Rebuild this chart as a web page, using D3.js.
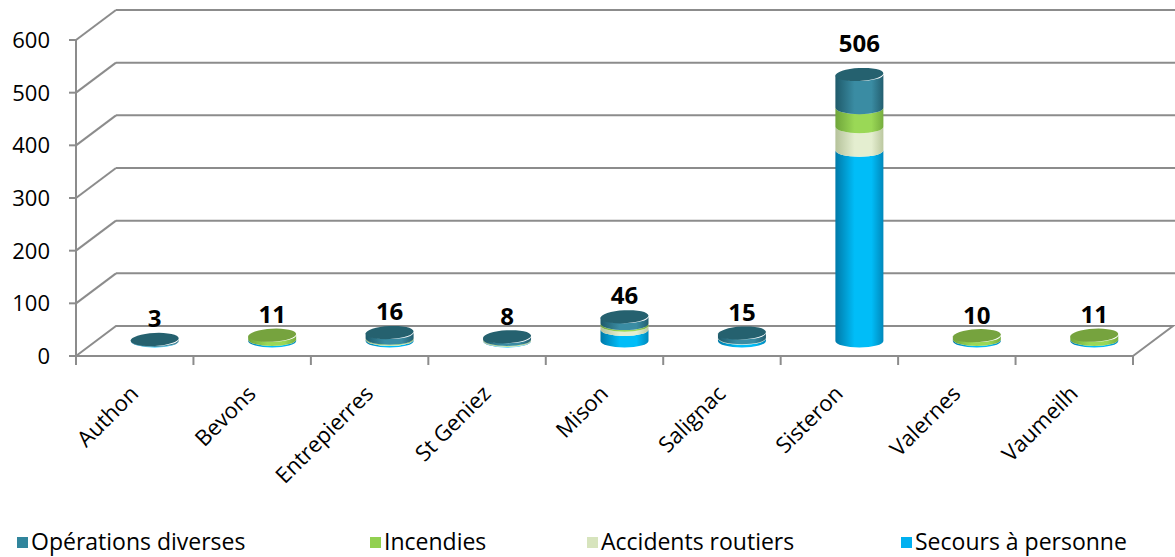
<!DOCTYPE html>
<html><head><meta charset="utf-8">
<script src="https://cdn.jsdelivr.net/npm/d3@7"></script>
<style>body{margin:0;background:#fff;} text{font-family:"Open Sans",sans-serif;}</style>
</head><body><svg id="c" width="1175" height="557"></svg>
<script>
const categories = ["Authon","Bevons","Entrepierres","St Geniez","Mison","Salignac","Sisteron","Valernes","Vaumeilh"];
const seriesNames = ["Secours à personne","Accidents routiers","Incendies","Opérations diverses"];
const secours    = [1, 3, 3, 1, 22, 5, 362, 3, 3];
const accidents  = [0, 0, 1, 1, 8, 1, 45, 0, 0];
const incendies  = [0, 8, 1, 1, 3, 0, 36, 7, 8];
const operations = [2, 0, 11, 5, 13, 9, 63, 0, 0];
const totals     = [3, 11, 16, 8, 46, 15, 506, 10, 11];
const yTicks     = [0, 100, 200, 300, 400, 500, 600];
const legendOrder = ["Opérations diverses","Incendies","Accidents routiers","Secours à personne"];

const sideColors = {"Secours à personne":["#0079a8","#00bdf8","#0088bb"],
  "Accidents routiers":["#b5c29a","#e4eed0","#bcc8a0"],
  "Incendies":["#6fa53a","#9ad856","#76ad3e"],
  "Opérations diverses":["#1f5a6a","#3a8ca3","#245f70"]};
const topColors = {"Secours à personne":"#10a0d8","Accidents routiers":"#cfe0b0","Incendies":"#76a33e","Opérations diverses":"#25616f"};
const legendColors = {"Opérations diverses":"#31859c","Incendies":"#92d050","Accidents routiers":"#d7e4bd","Secours à personne":"#00b0f0"};

const svg = d3.select("#c");
const x0 = 76, x1 = 1133, dx = 40, dy = -30;
const x = d3.scaleBand().domain(categories).range([x0, x1]);
const y = d3.scaleLinear().domain([0, 600]).range([356, 40]);
const grid = "#8c8c8c";

const defs = svg.append("defs");
Object.entries(sideColors).forEach(([k, c], i) => {
  const g = defs.append("linearGradient").attr("id", "g" + i).attr("x1", 0).attr("x2", 1).attr("y1", 0).attr("y2", 0);
  g.append("stop").attr("offset", 0).attr("stop-color", c[0]);
  g.append("stop").attr("offset", 0.4).attr("stop-color", c[1]);
  g.append("stop").attr("offset", 0.75).attr("stop-color", c[1]);
  g.append("stop").attr("offset", 1).attr("stop-color", c[2]);
});
const gradId = k => "url(#g" + Object.keys(sideColors).indexOf(k) + ")";

// back wall gridlines + diagonals
yTicks.forEach(t => {
  if (t > 0) {
    svg.append("line").attr("x1", x0).attr("y1", y(t)).attr("x2", x0 + dx).attr("y2", y(t) + dy).attr("stroke", grid).attr("stroke-width", 2);
    svg.append("line").attr("x1", x0 + dx).attr("y1", y(t) + dy).attr("x2", 1175).attr("y2", y(t) + dy).attr("stroke", grid).attr("stroke-width", 2);
  }
});
// floor
svg.append("path").attr("d", `M${x0},${y(0)}L${x0+dx},${y(0)+dy}L${x1+dx},${y(0)+dy}L${x1},${y(0)}`).attr("fill", "none").attr("stroke", grid).attr("stroke-width", 2);
// axes
svg.append("line").attr("x1", x0).attr("x2", x0).attr("y1", y(600)).attr("y2", y(0)).attr("stroke", grid).attr("stroke-width", 2);
svg.append("line").attr("x1", x0).attr("x2", x1).attr("y1", y(0)).attr("y2", y(0)).attr("stroke", grid).attr("stroke-width", 2);
yTicks.forEach(t => {
  svg.append("line").attr("x1", x0 - 7).attr("x2", x0).attr("y1", y(t)).attr("y2", y(t)).attr("stroke", grid).attr("stroke-width", 2);
  svg.append("text").attr("x", 50).attr("y", y(t)).attr("dy", "0.36em").attr("text-anchor", "end").attr("font-size", 22).attr("fill", "#000").text(t);
});
categories.forEach((c, i) => {
  svg.append("line").attr("x1", x(c)).attr("x2", x(c)).attr("y1", y(0)).attr("y2", y(0) + 9).attr("stroke", grid).attr("stroke-width", 2);
});
svg.append("line").attr("x1", x1).attr("x2", x1).attr("y1", y(0)).attr("y2", y(0) + 9).attr("stroke", grid).attr("stroke-width", 2);
categories.forEach(c => {
  const cx = x(c) + x.bandwidth() / 2;
  svg.append("text").attr("transform", `translate(${cx + 5},${y(0) + 39}) rotate(-45)`).attr("text-anchor", "end").attr("font-size", 22).attr("fill", "#000").text(c);
});

// cylinders
const rx = 24, ry = 6.5;
const stacks = [secours, accidents, incendies, operations];
categories.forEach((c, i) => {
  const cx = x(c) + x.bandwidth() / 2 + dx / 2;
  const off = dy / 2;
  let cum = 0;
  let topKey = null, topY = y(0) + off;
  const g = svg.append("g");
  stacks.forEach((arr, s) => {
    const v = arr[i];
    if (v <= 0) return;
    const yb = y(cum) + off, yt = y(cum + v) + off;
    cum += v;
    g.append("path")
      .attr("d", `M${cx-rx},${yt}L${cx-rx},${yb}A${rx},${ry} 0 0 0 ${cx+rx},${yb}L${cx+rx},${yt}A${rx},${ry} 0 0 1 ${cx-rx},${yt}Z`)
      .attr("fill", gradId(seriesNames[s]));
    topKey = seriesNames[s]; topY = yt;
  });
  g.append("ellipse").attr("cx", cx).attr("cy", topY).attr("rx", rx).attr("ry", ry)
    .attr("fill", topColors[topKey]).attr("transform", `rotate(-3,${cx},${topY})`);
  svg.append("text").attr("x", cx).attr("y", topY - 12 - totals[i] * 0.02).attr("text-anchor", "middle")
    .attr("font-size", 24).attr("font-weight", "bold").attr("fill", "#000").text(totals[i]);
});

// legend
const legX = [17, 370, 587, 901];
legendOrder.forEach((k, i) => {
  svg.append("rect").attr("x", legX[i]).attr("y", 537).attr("width", 11).attr("height", 11).attr("fill", legendColors[k]);
  svg.append("text").attr("x", legX[i] + 14).attr("y", 550).attr("font-size", 23).attr("fill", "#000").text(k);
});
</script></body></html>
